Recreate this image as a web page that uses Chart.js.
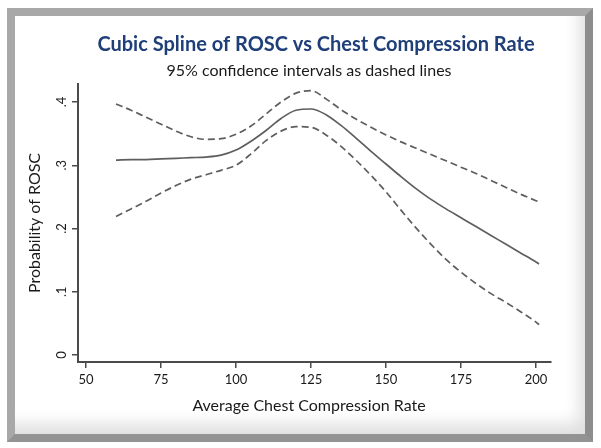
<!DOCTYPE html>
<html>
<head>
<meta charset="utf-8">
<script src="https://cdn.jsdelivr.net/npm/chart.js@4/dist/chart.umd.min.js"></script>
<style>
  html, body { margin: 0; padding: 0; background: #fff; }
  #wrap { position: relative; width: 601px; height: 448px; overflow: hidden; }
  #frame {
    position: absolute; left: 7px; top: 8px; width: 570px; height: 418px;
    border: 8px solid #a8a8a8;
    border-right-color: #8d8d8d; border-bottom-color: #939393;
    box-shadow: inset -14px -18px 16px -8px rgba(0,0,0,0.13);
    background: #fff;
  }
  canvas { position: absolute; left: 0; top: 0; }
</style>
</head>
<body>
<div id="wrap">
  <div id="frame"></div>
  <canvas id="chart" width="601" height="448"></canvas>
</div>
<script>
const title = 'Cubic Spline of ROSC vs Chest Compression Rate';
const subtitle = '95% confidence intervals as dashed lines';
const xTitle = 'Average Chest Compression Rate';
const yTitle = 'Probability of ROSC';

// compression rate (x) and estimated probability of ROSC
const rate  = [60, 65, 70, 75, 80, 85, 90, 95, 100, 105, 110, 115, 120, 125, 130, 135, 140, 145, 150, 155, 160, 165, 170, 175, 180, 185, 190, 195, 200, 201];
const fit   = [.308, .309, .309, .310, .311, .312, .313, .316, .324, .338, .355, .374, .387, .389, .380, .363, .343, .322, .302, .282, .263, .246, .231, .217, .203, .189, .175, .161, .147, .144];
const upper = [.397, .387, .376, .365, .354, .345, .341, .342, .349, .362, .381, .400, .414, .418, .405, .388, .373, .360, .348, .337, .327, .317, .307, .297, .287, .276, .265, .254, .244, .242];
const lower = [.219, .231, .243, .256, .268, .278, .285, .292, .300, .318, .339, .354, .361, .360, .348, .330, .308, .284, .258, .229, .201, .175, .151, .131, .113, .097, .083, .068, .052, .048];

const xTicks = [50, 75, 100, 125, 150, 175, 200];
const yTicks = [0, .1, .2, .3, .4];

function pts(ys) {
  return rate.map((x, i) => ({ x: x, y: ys[i] }));
}

const lineColor = '#5e5e5e';
const axisColor = '#4a4a4a';

const titlePlugin = {
  id: 'titles',
  afterDraw(chart) {
    const ctx = chart.ctx;
    ctx.save();
    ctx.textAlign = 'center';
    ctx.textBaseline = 'alphabetic';
    ctx.fillStyle = '#1f3f78';
    ctx.font = 'bold 20px Lato';
    ctx.fillText(title, 316, 51);
    ctx.fillStyle = '#1a1a1a';
    ctx.font = '16px Lato';
    ctx.fillText(subtitle, 309, 76);
    ctx.font = '16px Lato';
    ctx.fillText(xTitle, 309, 411);
    ctx.restore();
  }
};

new Chart(document.getElementById('chart'), {
  type: 'line',
  data: {
    datasets: [
      { data: pts(upper), borderColor: lineColor, borderWidth: 1.7, borderDash: [7, 4], pointRadius: 0, cubicInterpolationMode: 'monotone' },
      { data: pts(fit), borderColor: lineColor, borderWidth: 1.7, pointRadius: 0, cubicInterpolationMode: 'monotone' },
      { data: pts(lower), borderColor: lineColor, borderWidth: 1.7, borderDash: [7, 4], pointRadius: 0, cubicInterpolationMode: 'monotone' }
    ]
  },
  options: {
    responsive: false,
    animation: false,
    layout: { padding: { left: 0, top: 84, right: 50, bottom: 0 } },
    plugins: { legend: { display: false }, tooltip: { enabled: false } },
    scales: {
      x: {
        type: 'linear',
        min: 47.33,
        max: 205,
        afterFit: s => { s.height = 86; },
        afterBuildTicks: s => { s.ticks = xTicks.map(v => ({ value: v })); },
        ticks: { font: { family: 'Lato', size: 13 }, color: '#1a1a1a', padding: 4, maxRotation: 0 },
        grid: { drawOnChartArea: false, drawTicks: true, tickLength: 6, color: axisColor, lineWidth: 1.5 },
        border: { display: true, color: axisColor, width: 2 }
      },
      y: {
        min: -0.0111,
        max: 0.4285,
        afterFit: s => { s.width = 78; },
        afterBuildTicks: s => { s.ticks = yTicks.map(v => ({ value: v })); },
        ticks: {
          font: { family: 'Lato', size: 13 }, color: '#1a1a1a', padding: 5,
          minRotation: 90, maxRotation: 90, crossAlign: 'center',
          callback: v => v === 0 ? '0' : v.toFixed(1).replace(/^0/, '')
        },
        grid: { drawOnChartArea: false, drawTicks: true, tickLength: 6, color: axisColor, lineWidth: 1.5 },
        border: { display: true, color: axisColor, width: 2 },
        title: { display: true, text: yTitle, font: { family: 'Lato', size: 16 }, color: '#1a1a1a', padding: { top: 25, bottom: 0 } }
      }
    }
  },
  plugins: [titlePlugin]
});
</script>
</body>
</html>
